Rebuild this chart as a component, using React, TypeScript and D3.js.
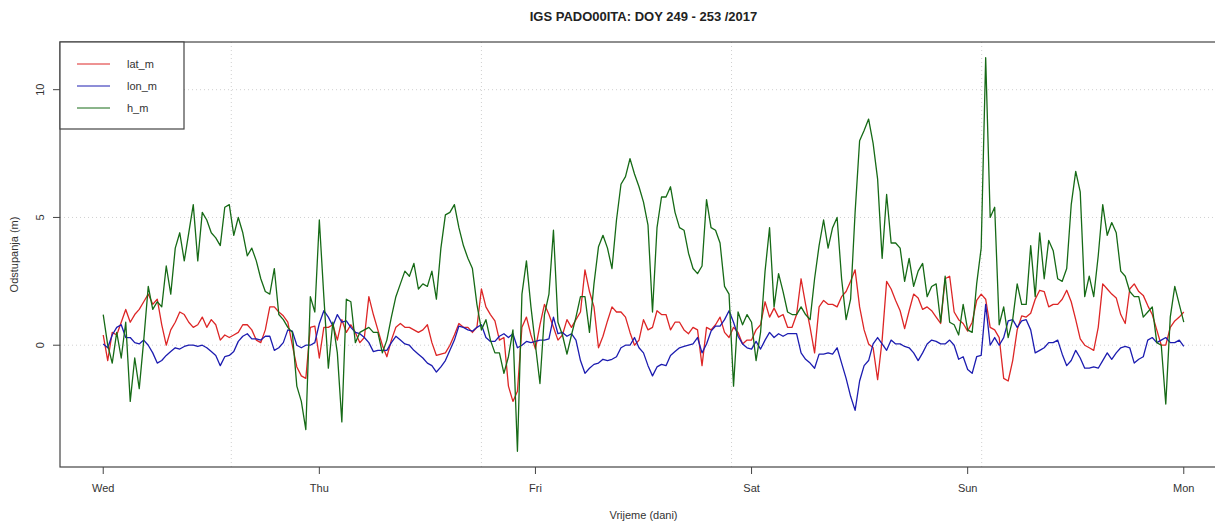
import React from "react";
import * as d3 from "d3";

// ---- data (30-minute samples, DOY 249 00:00 local -> DOY 254 00:00) ----
const dayLabels = ["Wed", "Thu", "Fri", "Sat", "Sun", "Mon"];
const yTicks = [0, 5, 10];
const seriesNames = ["lat_m", "lon_m", "h_m"];
const seriesColors = ["#dd2626", "#1c1cb0", "#166a16"];

const latM = [
  0.4, -0.6, 0.5, 0.4, 0.9, 1.4, 0.9, 1.2, 1.4, 1.7, 2.0, 1.6, 1.8, 0.8, 0.0, 0.6, 0.9, 1.3, 1.2, 0.9,
  0.7, 0.8, 1.1, 0.7, 1.0, 0.8, 0.2, 0.4, 0.3, 0.4, 0.5, 0.8, 0.8, 0.6, 0.2, 0.1, 0.6, 1.5, 1.5, 1.3,
  1.15,
  0.9, 0.0, -0.85, -1.2, -1.3, 0.7, 0.75, -0.5, 0.7, 0.7, 0.8, 0.2, 1.0, 0.5, 0.8, 0.5, 0.1, 0.3, 1.9, 1.2,
  0.6, 0.0, -0.45, 0.2, 0.7, 0.85, 0.7, 0.7, 0.6, 0.5, 0.6, 0.8, 0.1, -0.4, -0.35, -0.3, 0.0, 0.4, 0.85, 0.7,
  0.7,
  0.5, 0.7, 2.2, 1.5, 1.2, 0.95, 0.2, 0.3, -1.6, -2.2, -1.8, 0.7, 1.1, 0.4, -0.15, 0.8, 1.6, 1.2, 0.7, 0.2,
  0.4, 1.0, 0.7, 1.0, 1.3, 2.95, 2.1, 1.5, -0.1, 0.35, 0.95, 1.5, 1.3, 1.3, 1.1, 0.5, 0.0, 0.2, 1.0, 0.6,
  0.7,
  1.35, 1.2, 1.2, 0.6, 0.9, 0.9, 0.6, 0.45, 0.7, 0.6, -0.8, 0.7, 0.6, 0.8, 1.1, 0.5, 0.3, 0.7, 0.5, 0.05,
  0.2, 0.2, 0.6, 0.8, 1.7, 1.1, 1.45, 1.1, 1.2, 0.7, 0.7, 1.2, 2.6, 1.6, 0.7, -0.3, 1.5, 1.75, 1.6, 1.6,
  1.5,
  1.9, 2.1, 2.5, 2.95, 1.5, 0.6, 0.05, -0.1, -1.35, 0.2, 2.5, 2.2, 1.75, 1.35, 0.65, 1.35, 2.0, 1.85, 1.4, 1.5,
  1.35, 1.1, 0.85, 2.6, 2.7, 1.3, 1.0, 0.85, 0.55, 0.9, 1.75, 2.0, 1.8, 0.7, 0.6, 0.3, -1.3, -1.4, -0.6,
  0.6, 1.15, 1.1, 1.25, 1.8, 2.15, 2.1, 1.5, 1.6, 1.6, 1.8, 2.15, 1.7, 1.0, 0.25, 0.0, -0.1, -0.2, 0.7, 2.4,
  2.2, 2.0, 1.85, 1.2, 0.85, 2.2, 2.4, 2.1, 1.95, 1.55, 1.2, 0.6, 0.0, 0.0, 0.7, 0.95, 1.1, 1.3,
];

const lonM = [
  0.05, -0.1, 0.4, 0.7, 0.8, 0.3, 0.3, 0.1, 0.05, 0.2, 0.0, -0.3, -0.7, -0.6, -0.4, -0.25, -0.1, -0.15, -0.05, 0.0,
  0.0, -0.05, 0.0, -0.1, -0.25, -0.4, -0.8, -0.45, -0.4, -0.25, 0.15, 0.35, 0.45, 0.25, 0.25, 0.2, 0.35, 0.35, -0.2, -0.1,
  0.1,
  0.6, 0.55, 0.0, -0.1, 0.0, 0.0, 0.1, 0.85, 1.35, 1.1, 0.75, 1.2, 0.9, 0.95, 0.7, 0.5, 0.45, 0.3, 0.1, -0.25,
  -0.2, -0.2, -0.2, 0.1, 0.35, 0.2, 0.05, 0.0, -0.2, -0.35, -0.5, -0.7, -0.8, -1.05, -0.85, -0.6, -0.2, 0.2, 0.75, 0.7,
  0.6,
  0.55, 0.7, 0.8, 0.3, 0.15, 0.15, 0.35, 0.45, 0.3, 0.45, -0.1, 0.0, 0.15, 0.1, 0.15, 0.2, 0.2, 0.25, 1.1, 0.45,
  0.5, 0.35, 0.45, 0.2, -0.6, -1.1, -0.9, -0.75, -0.7, -0.55, -0.6, -0.55, -0.45, -0.1, 0.0, 0.0, 0.3, -0.1, -0.3, -0.8,
  -1.2,
  -0.85, -0.75, -0.8, -0.4, -0.25, -0.1, -0.05, 0.0, 0.05, 0.3, -0.3, 0.05, 0.55, 0.75, 0.75, 1.0, 1.35, 0.9, 0.35, 0.05,
  -0.1, -0.15, 0.15, -0.15, 0.2, 0.5, 0.3, 0.45, 0.35, 0.45, 0.45, 0.45, -0.3, -0.55, -0.7, -0.9, -0.35, -0.35, -0.3, -0.35,
  -0.1,
  -0.7, -1.3, -2.0, -2.55, -1.4, -0.8, -0.6, 0.05, 0.3, 0.05, -0.2, 0.2, 0.05, 0.05, -0.05, -0.1, -0.3, -0.6, -0.3, 0.05,
  0.2, 0.15, 0.05, 0.05, 0.2, 0.0, -0.55, -0.45, -0.95, -1.1, -0.45, -0.4, 1.6, 0.0, 0.3, 0.0, 0.3, 0.95, 1.0,
  0.7, 0.95, 1.0, 0.6, -0.3, -0.2, -0.1, 0.1, 0.1, 0.2, -0.35, -0.8, -0.6, -0.2, -0.5, -0.9, -0.9, -0.85, -0.9, -0.6,
  -0.3, -0.55, -0.3, -0.1, -0.05, -0.1, -0.7, -0.55, -0.45, 0.2, 0.3, 0.1, 0.2, 0.3, 0.1, 0.1, 0.2, -0.05,
];

const hM = [
  1.2, 0.0, -0.7, 0.5, -0.5, 0.9, -2.2, -0.5, -1.7, 0.2, 2.3, 1.4, 1.7, 1.5, 3.1, 2.0, 3.8, 4.4, 3.3, 4.4,
  5.5, 3.3, 5.2, 4.9, 4.4, 4.2, 3.9, 5.4, 5.5, 4.3, 5.0, 4.4, 3.5, 3.8, 3.3, 2.6, 2.1, 2.0, 3.0, 1.2,
  1.0,
  0.7, 0.5, -1.6, -2.2, -3.3, 1.9, 1.3, 4.9, 1.9, -0.9, 0.9, -0.3, -3.0, 1.8, 1.7, 0.1, 0.5, 0.6, 0.7, 0.5,
  0.5, -0.3, 0.2, 1.1, 1.9, 2.4, 2.9, 2.7, 3.2, 2.2, 2.4, 2.3, 2.9, 1.8, 3.8, 5.1, 5.2, 5.5, 4.6, 3.9,
  3.4,
  3.0, 1.6, 0.6, 1.0, 0.2, -0.3, -0.3, -1.1, -0.45, 0.6, -4.15, 2.0, 3.3, 1.5, 0.0, -1.5, 1.2, 2.0, 4.5, 0.9,
  0.4, -0.35, 0.4, 1.1, 1.9, 1.9, 0.5, 2.4, 3.85, 4.3, 3.8, 3.0, 4.9, 6.3, 6.6, 7.3, 6.7, 6.2, 5.6, 4.7,
  1.3,
  4.6, 5.8, 5.8, 6.2, 5.2, 4.6, 4.5, 3.6, 3.0, 2.8, 3.1, 5.7, 4.6, 4.5, 4.0, 2.3, 2.0, -1.6, 1.3, 0.8,
  1.2, 0.9, -0.6, 0.5, 2.9, 4.6, 1.5, 2.8, 2.1, 1.3, 1.2, 1.2, 1.5, 1.2, 1.0, 2.6, 3.9, 4.9, 3.8, 4.6,
  5.0,
  2.6, 1.0, 1.8, 5.2, 8.0, 8.4, 8.85, 7.9, 6.5, 3.4, 5.9, 4.0, 4.0, 3.8, 2.5, 3.4, 2.3, 2.9, 3.2, 1.9,
  2.3, 2.4, 0.9, 2.7, 0.9, 0.8, 0.4, 1.6, 0.6, 0.5, 2.4, 3.8, 11.25, 5.0, 5.4, 0.8, 1.5, 0.3, 1.0,
  2.4, 1.6, 1.6, 3.9, 1.9, 4.4, 2.6, 4.1, 3.7, 2.6, 2.5, 3.0, 5.5, 6.8, 6.0, 1.9, 2.7, 1.9, 3.5, 5.5,
  4.3, 4.8, 4.4, 2.9, 2.7, 2.1, 1.9, 1.9, 1.1, 1.3, 1.5, 0.1, 0.0, -2.3, 1.1, 2.3, 1.6, 0.9,
];

// sample time in days since Wed 00:00 (30-minute sampling)
const timesDays = latM.map((_, i) => i / 48);
// R grid(): pretty POSIXct ticks every 100000 s, first at 51200 s after Wed 00:00 local
const gridSeconds = d3.range(-48800, 5.3 * 86400, 100000);

const W = 1215;
const H = 521;
const plotL = 60;
const plotR = 1227;
const plotT = 42;
const plotB = 467;
const font = "'Liberation Sans', Arial, Helvetica, sans-serif";

export default function App() {
  const allSeries = [latM, lonM, hM];
  const [mn, mx] = d3.extent(allSeries.flat()) as [number, number];
  const pad = (mx - mn) * 0.04;

  const x = d3.scaleLinear().domain([-0.2, 5.2]).range([plotL, plotR]);
  const y = d3.scaleLinear().domain([mn - pad, mx + pad]).range([plotB, plotT]);

  const line = (vals: number[]) =>
    d3
      .line<number>()
      .x((_, i) => x(timesDays[i]))
      .y((v) => y(v))(vals) || "";

  const gridXs = gridSeconds
    .map((s) => x(s / 86400))
    .filter((px) => px > plotL && px < plotR);

  return (
    <svg
      width={W}
      height={H}
      style={{ position: "absolute", left: 0, top: 0, background: "#fff" }}
      fontFamily={font}
    >
      <rect x={0} y={0} width={W} height={H} fill="#fff" />
      <defs>
        <clipPath id="plotclip">
          <rect x={plotL} y={plotT} width={plotR - plotL} height={plotB - plotT} />
        </clipPath>
      </defs>

      {/* grid */}
      <g stroke="#d0d0d0" strokeWidth={1} strokeDasharray="1 3">
        {gridXs.map((gx, i) => (
          <line key={"gx" + i} x1={gx} x2={gx} y1={plotT} y2={plotB} />
        ))}
        {yTicks.map((t) => (
          <line key={"gy" + t} x1={plotL} x2={plotR} y1={y(t)} y2={y(t)} />
        ))}
      </g>

      {/* series */}
      <g clipPath="url(#plotclip)" fill="none" strokeWidth={1.3} strokeLinejoin="round">
        {allSeries.map((s, i) => (
          <path key={seriesNames[i]} d={line(s)} stroke={seriesColors[i]} />
        ))}
      </g>

      {/* box */}
      <rect
        x={plotL}
        y={plotT}
        width={plotR - plotL}
        height={plotB - plotT}
        fill="none"
        stroke="#444"
        strokeWidth={1.2}
      />

      {/* y axis */}
      <g stroke="#444" strokeWidth={1}>
        {yTicks.map((t) => (
          <line key={"yt" + t} x1={plotL - 7} x2={plotL} y1={y(t)} y2={y(t)} />
        ))}
      </g>
      {yTicks.map((t) => (
        <text
          key={"yl" + t}
          transform={`translate(44,${y(t)}) rotate(-90)`}
          textAnchor="middle"
          fontSize={11}
          fill="#333"
        >
          {t}
        </text>
      ))}

      {/* x axis */}
      <g stroke="#444" strokeWidth={1}>
        {dayLabels.map((d, i) => (
          <line key={"xt" + d} x1={x(i)} x2={x(i)} y1={plotB} y2={plotB + 7} />
        ))}
      </g>
      {dayLabels.map((d, i) => (
        <text key={"xl" + d} x={x(i)} y={492} textAnchor="middle" fontSize={11} fill="#333">
          {d}
        </text>
      ))}

      {/* titles */}
      <text
        x={(plotL + plotR) / 2}
        y={20.5}
        textAnchor="middle"
        fontSize={13}
        fontWeight="bold"
        fill="#222"
      >
        IGS PADO00ITA: DOY 249 - 253 /2017
      </text>
      <text x={(plotL + plotR) / 2} y={519} textAnchor="middle" fontSize={11} fill="#333">
        Vrijeme (dani)
      </text>
      <text
        transform={`translate(18,${(plotT + plotB) / 2}) rotate(-90)`}
        textAnchor="middle"
        fontSize={11}
        fill="#333"
      >
        Odstupanja (m)
      </text>

      {/* legend */}
      <rect x={plotL} y={plotT} width={124} height={87} fill="#fff" stroke="#444" strokeWidth={1.2} />
      {seriesNames.map((n, i) => (
        <g key={"lg" + n}>
          <line
            x1={77}
            x2={110}
            y1={64 + i * 22}
            y2={64 + i * 22}
            stroke={seriesColors[i]}
            strokeWidth={1}
          />
          <text x={127} y={68 + i * 22} fontSize={11} fill="#333">
            {n}
          </text>
        </g>
      ))}
    </svg>
  );
}
